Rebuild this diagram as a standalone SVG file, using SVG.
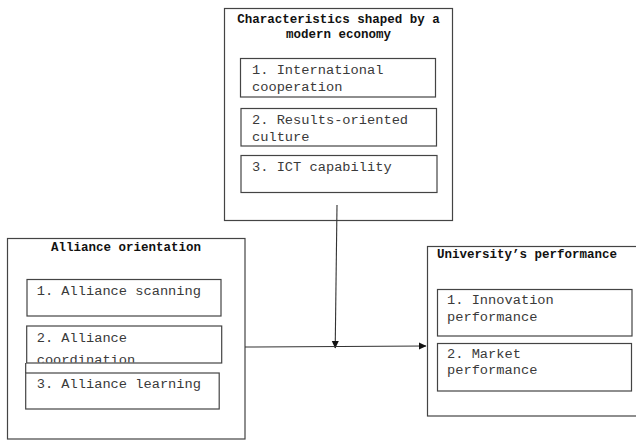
<svg xmlns="http://www.w3.org/2000/svg" width="636" height="441" viewBox="0 0 636 441">
<style>
.outer{fill:#fff;stroke:#444;stroke-width:1.2}
.inner{fill:#fff;stroke:#444;stroke-width:1.2}
.title{font-family:"Liberation Mono","Courier New",monospace;font-weight:bold;font-size:12.5px;fill:#111}
.item{font-family:"Liberation Mono","Courier New",monospace;font-size:13.7px;fill:#3a3a3a}
.conn{fill:none;stroke:#333;stroke-width:1.1}
</style>
<defs>
<marker id="arr" markerWidth="8" markerHeight="8" refX="7" refY="4" orient="auto" markerUnits="userSpaceOnUse">
<path d="M0,0.5 L7.5,4 L0,7.5 Z" fill="#111"/>
</marker>
<clipPath id="clipB2"><rect x="26.5" y="326" width="195" height="36.5"/></clipPath>
</defs>
<rect width="636" height="441" fill="#fff"/>

<g id="characteristics">
<rect class="outer" x="224.5" y="8.5" width="228" height="212"/>
<text class="title" x="338.5" y="23" text-anchor="middle">Characteristics shaped by a</text>
<text class="title" x="338.5" y="38" text-anchor="middle">modern economy</text>
<g id="c1"><rect class="inner" x="240.5" y="58.5" width="195" height="38.5"/>
<text class="item" x="252" y="74">1. International</text>
<text class="item" x="252" y="91">cooperation</text></g>
<g id="c2"><rect class="inner" x="241" y="108.5" width="195.5" height="37.5"/>
<text class="item" x="252" y="124">2. Results-oriented</text>
<text class="item" x="252" y="141">culture</text></g>
<g id="c3"><rect class="inner" x="241" y="155.5" width="196" height="37"/>
<text class="item" x="252" y="171">3. ICT capability</text></g>
</g>

<g id="alliance">
<rect class="outer" x="7.5" y="238.5" width="237.5" height="200.5"/>
<text class="title" x="126" y="251" text-anchor="middle">Alliance orientation</text>
<g id="a1"><rect class="inner" x="27" y="279.5" width="194" height="36.5"/>
<text class="item" x="36.7" y="295">1. Alliance scanning</text></g>
<g id="a2"><rect class="inner" x="26.7" y="326" width="195" height="37"/>
<g clip-path="url(#clipB2)">
<text class="item" x="36.7" y="342">2. Alliance</text>
<text class="item" x="36.7" y="363.5">coordination</text></g></g>
<path class="conn" d="M25.7,363 V373"/>
<g id="a3"><rect class="inner" x="25.7" y="373" width="193.5" height="36"/>
<text class="item" x="36.7" y="388">3. Alliance learning</text></g>
</g>

<g id="performance">
<rect class="outer" x="427.5" y="246.5" width="215" height="169.5"/>
<text class="title" x="437" y="258">University’s performance</text>
<g id="p1"><rect class="inner" x="437.5" y="289.5" width="194.5" height="46.5"/>
<text class="item" x="447" y="304">1. Innovation</text>
<text class="item" x="447" y="321">performance</text></g>
<g id="p2"><rect class="inner" x="437.5" y="343.5" width="194" height="47.5"/>
<text class="item" x="447" y="358">2. Market</text>
<text class="item" x="447" y="374">performance</text></g>
</g>

<g id="connectors">
<path class="conn" d="M337,205 L335.2,348" marker-end="url(#arr)"/>
<path class="conn" d="M245,347 L426,346" marker-end="url(#arr)"/>
</g>
</svg>
